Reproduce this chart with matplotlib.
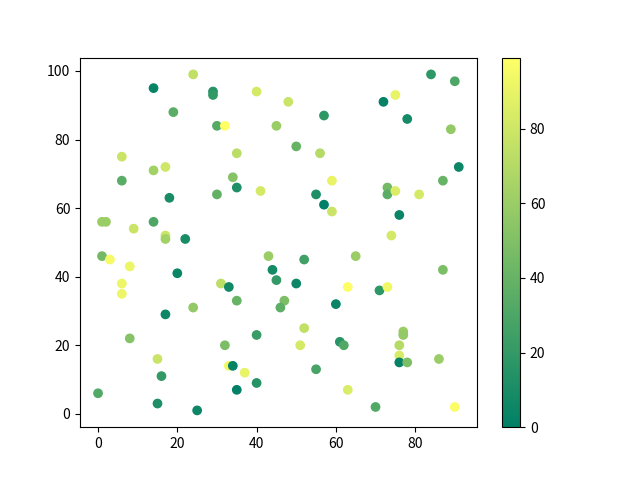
import matplotlib
matplotlib.use('Agg')
import matplotlib.pyplot as plt

plt.rcParams['font.family'] = ['Noto Sans CJK SC', 'DejaVu Sans']

x = [24, 14, 29, 29, 40, 19, 30, 32, 45,
     6, 35, 17, 14, 6, 34, 35, 41, 18, 30,
     1, 2, 9, 14, 17, 17, 22,
     84, 90, 75, 72, 48, 57, 78, 89, 50, 56,
     91, 59, 87, 73, 73, 75, 81, 55, 57, 59, 76, 74,
     1, 3, 8, 6, 6, 20, 43, 44, 45, 31,
     33, 35, 47, 46, 24, 17, 8, 40, 32, 15,
     33, 34, 37, 16, 40, 35, 0, 15, 25,
     52, 65, 87, 50, 63, 71, 73, 60, 52, 77,
     77, 51, 61, 62, 76, 76, 76, 78, 86, 55, 63, 70, 90]
y = [99, 95, 94, 93, 94, 88, 84, 84, 84,
     75, 76, 72, 71, 68, 69, 66, 65, 63, 64,
     56, 56, 54, 56, 52, 51, 51,
     99, 97, 93, 91, 91, 87, 86, 83, 78, 76,
     72, 68, 68, 66, 64, 65, 64, 64, 61, 59, 58, 52,
     46, 45, 43, 38, 35, 41, 46, 42, 39, 38,
     37, 33, 33, 31, 31, 29, 22, 23, 20, 16,
     14, 14, 12, 11, 9, 7, 6, 3, 1,
     45, 46, 42, 38, 37, 36, 37, 32, 25, 24,
     23, 20, 21, 20, 20, 17, 15, 15, 16, 13, 7, 2, 2]
c = [75, 3, 15, 20, 82, 35, 33, 99, 60,
     78, 72, 80, 63, 35, 52, 12, 82, 10, 38,
     60, 60, 78, 30, 78, 63, 10,
     18, 30, 90, 2, 78, 18, 8, 57, 40, 70,
     5, 90, 40, 45, 35, 85, 82, 12, 0, 78, 4, 82,
     45, 95, 92, 92, 92, 4, 60, 8, 20, 73,
     7, 40, 48, 36, 57, 5, 52, 22, 48, 78,
     93, 3, 90, 20, 15, 1, 32, 12, 5,
     25, 60, 48, 5, 98, 18, 93, 4, 75, 60,
     57, 82, 16, 32, 70, 83, 2, 48, 60, 28, 85, 32, 97]

fig, ax = plt.subplots(figsize=(6.4, 4.8), dpi=100)
sc = ax.scatter(x, y, c=c, cmap='summer')
fig.colorbar(sc, ax=ax)
fig.savefig('out.png')
